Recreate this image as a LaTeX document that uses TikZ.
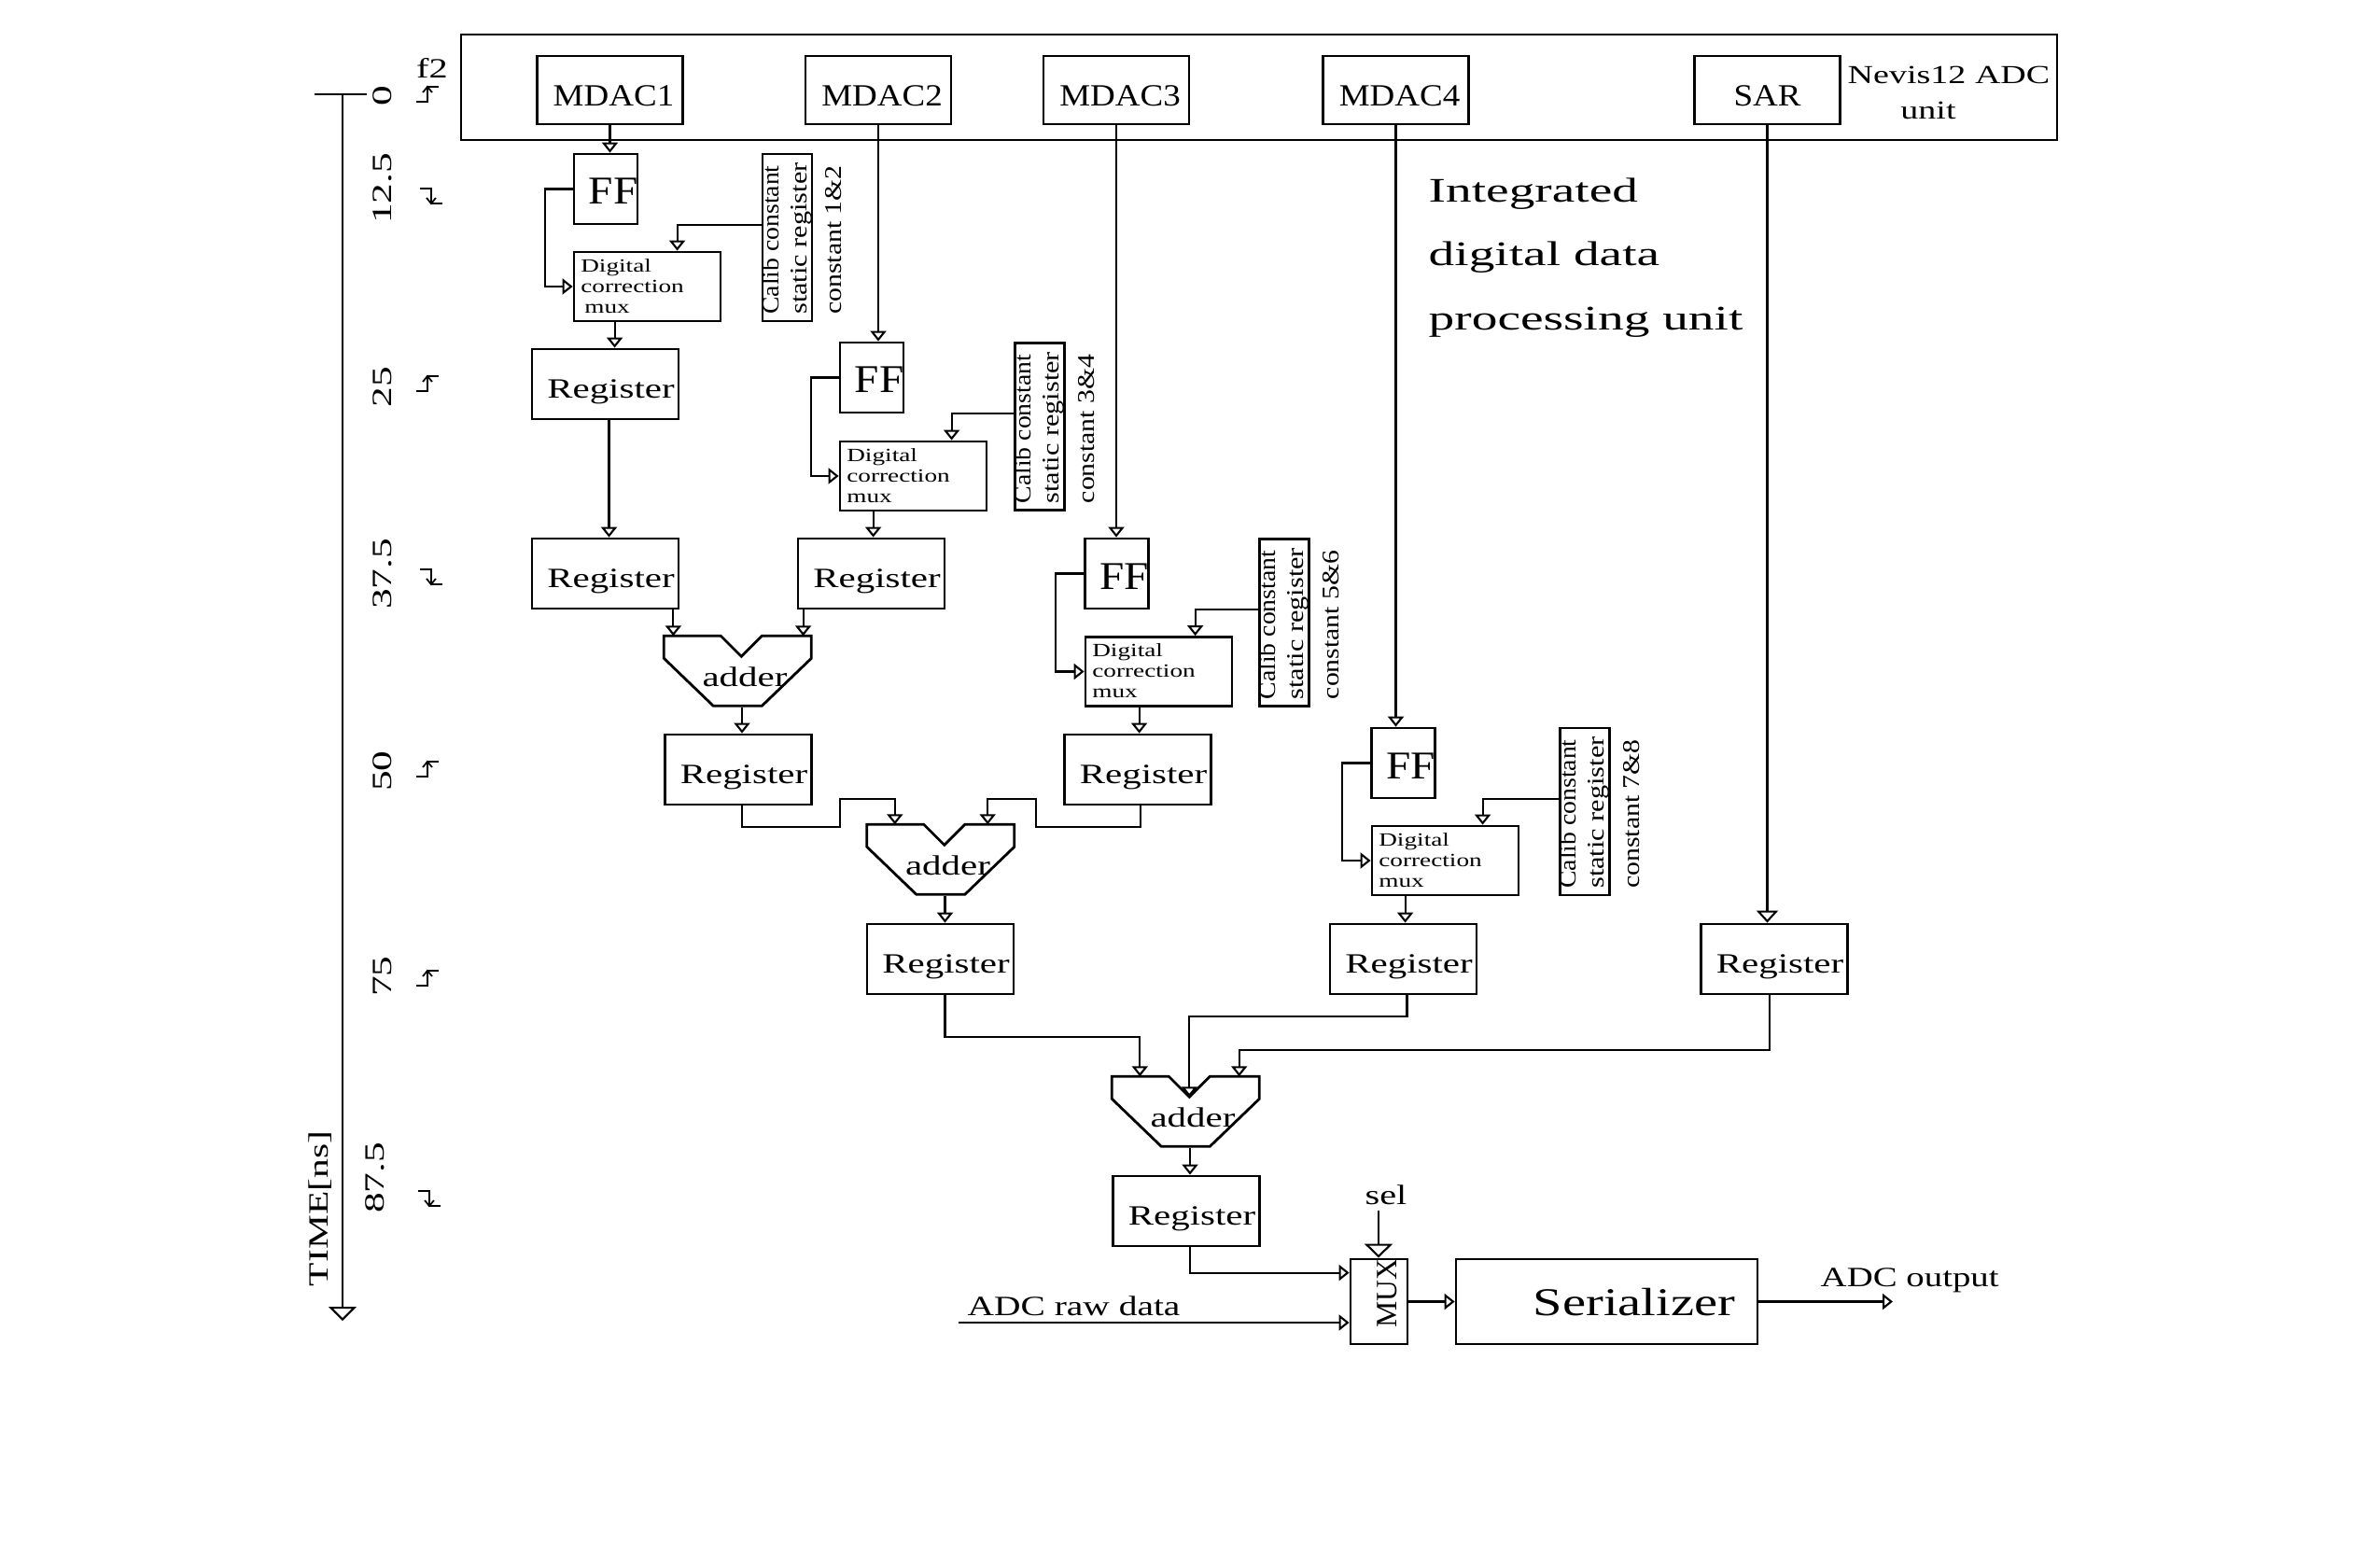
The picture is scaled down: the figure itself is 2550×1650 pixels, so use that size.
\documentclass[tikz,border=0pt]{standalone}
\usepackage{fontspec}
\setmainfont{Liberation Serif}
\usetikzlibrary{arrows.meta}
\newcommand\hs[2]{\scalebox{#1}[1]{#2}}
\newcommand\clkup[2]{\draw[clk] ({#1-12},{#2+8}) -- ({#1},{#2+8}) -- ({#1},{#2-8}) -- ({#1+12},{#2-8});
  \draw[clk] ({#1-5},{#2-2}) -- ({#1},{#2-8}) -- ({#1+5},{#2-2});}
\newcommand\clkdn[2]{\draw[clk] ({#1-12},{#2-8}) -- ({#1},{#2-8}) -- ({#1},{#2+8}) -- ({#1+12},{#2+8});
  \draw[clk] ({#1-5},{#2+2}) -- ({#1},{#2+8}) -- ({#1+5},{#2+2});}
\begin{document}
\begin{tikzpicture}[x=0.1mm,y=-0.1mm,
  sz/.style 2 args={minimum width=#1*0.1mm,minimum height=#2*0.1mm},
  blk/.style={draw,line width=0.8pt,inner sep=0pt},
  blkline/.style={line width=0.8pt},
  clk/.style={line width=0.5pt},
  lnk/.style={line width=0.6pt},
  arr/.style={line width=0.6pt,-{Triangle[open,length=1.1mm,width=1.7mm]}},
  midarr/.style={line width=0.6pt,-{Triangle[open,length=1.3mm,width=2.3mm]}},
  bigarr/.style={line width=0.6pt,-{Triangle[open,length=1.5mm,width=3mm]}},
  lbl/.style={inner sep=0pt,anchor=base},
  fmdac/.style={lbl,font=\fontsize{9.4}{11}\selectfont},
  fnev/.style={lbl,font=\fontsize{7.9}{9}\selectfont},
  fff/.style={lbl,font=\fontsize{12}{14}\selectfont},
  fdcm/.style={inner sep=0pt,anchor=north west,align=left,font=\fontsize{5.7}{6.3}\selectfont},
  fcal/.style={inner sep=0pt,rotate=90,anchor=north west,align=left,font=\fontsize{7.3}{8.6}\selectfont},
  freg/.style={lbl,font=\fontsize{8.5}{10}\selectfont},
  fsm/.style={inner sep=0pt,font=\fontsize{8.5}{10}\selectfont},
  ftime/.style={inner sep=0pt,rotate=90,anchor=center,font=\fontsize{8.5}{10}\selectfont},
  fser/.style={lbl,font=\fontsize{12}{14}\selectfont},
  fint/.style={inner sep=0pt,anchor=north west,align=left,font=\fontsize{10.5}{19.5}\selectfont}
]
\useasboundingbox (0,0) rectangle (2550,1650);

% ---------------- ADC unit ----------------
\node[blk,sz={1710}{113}] (adcunit) at (1349,93.5) {};
\node[blk,sz={156}{73}] (mdac1) at (653.5,96.5) {};
\node[blk,sz={156}{73}] (mdac2) at (941,96.5) {};
\node[blk,sz={156}{73}] (mdac3) at (1196,96.5) {};
\node[blk,sz={156}{73}] (mdac4) at (1495.5,96.5) {};
\node[blk,sz={156}{73}] (sar) at (1893.5,96.5) {};
\node[fmdac] (mdac1t) at (657.5,114) {\hs{1.12}{MDAC1}};
\node[fmdac] (mdac2t) at (945,114) {\hs{1.12}{MDAC2}};
\node[fmdac] (mdac3t) at (1200,114) {\hs{1.12}{MDAC3}};
\node[fmdac] (mdac4t) at (1499.5,114) {\hs{1.12}{MDAC4}};
\node[fmdac] (sart) at (1893.5,114) {\hs{1.12}{SAR}};
\node[fnev] (nevist) at (2088,90) {\hs{1.37}{Nevis12 ADC}};
\node[fnev] (unitt) at (2066,128) {\hs{1.37}{unit}};

% ---------------- FF / mux / calib groups ----------------
\node[blk,sz={68}{75}] (ff1) at (649,202.5) {};
\node[blk,sz={68}{75}] (ff2) at (934,404.5) {};
\node[blk,sz={68}{75}] (ff3) at (1196.5,614.5) {};
\node[blk,sz={68}{75}] (ff4) at (1503.5,817.5) {};
\node[fff] (ff1t) at (657,219) {\hs{1.12}{FF}};
\node[fff] (ff2t) at (942,421) {\hs{1.12}{FF}};
\node[fff] (ff3t) at (1204.5,631) {\hs{1.12}{FF}};
\node[fff] (ff4t) at (1511.5,834) {\hs{1.12}{FF}};

\node[blk,sz={157}{74}] (mux1) at (693.5,307) {};
\node[blk,sz={157}{74}] (mux2) at (978.5,510) {};
\node[blk,sz={157}{74}] (mux3) at (1241.5,719.5) {};
\node[blk,sz={157}{74}] (mux4) at (1548.5,922) {};
\node[fdcm] (mux1t) at ([shift={(8,8)}]mux1.north west) {\hs{1.36}{Digital}\\\hs{1.36}{correction}\\\hs{1.36}{\hspace*{0.3mm}mux}};
\node[fdcm] (mux2t) at ([shift={(8,8)}]mux2.north west) {\hs{1.36}{Digital}\\\hs{1.36}{correction}\\\hs{1.36}{mux}};
\node[fdcm] (mux3t) at ([shift={(8,8)}]mux3.north west) {\hs{1.36}{Digital}\\\hs{1.36}{correction}\\\hs{1.36}{mux}};
\node[fdcm] (mux4t) at ([shift={(8,8)}]mux4.north west) {\hs{1.36}{Digital}\\\hs{1.36}{correction}\\\hs{1.36}{mux}};

\node[blk,sz={53}{179}] (calib1) at (843.5,254.5) {};
\node[blk,sz={53}{179}] (calib2) at (1114,457) {};
\node[blk,sz={53}{179}] (calib3) at (1376,667) {};
\node[blk,sz={53}{179}] (calib4) at (1698,869.5) {};
\node[fcal] (calib1t) at ([shift={(0,-8)}]calib1.south west) {\hs{1.08}{Calib constant}\\\hs{1.18}{static register}\\[2pt]\hs{1.16}{constant 1\&2}};
\node[fcal] (calib2t) at ([shift={(0,-8)}]calib2.south west) {\hs{1.08}{Calib constant}\\\hs{1.18}{static register}\\[2pt]\hs{1.16}{constant 3\&4}};
\node[fcal] (calib3t) at ([shift={(0,-8)}]calib3.south west) {\hs{1.08}{Calib constant}\\\hs{1.18}{static register}\\[2pt]\hs{1.16}{constant 5\&6}};
\node[fcal] (calib4t) at ([shift={(0,-8)}]calib4.south west) {\hs{1.08}{Calib constant}\\\hs{1.18}{static register}\\[2pt]\hs{1.16}{constant 7\&8}};

% ---------------- registers ----------------
\node[blk,sz={157}{75}] (reg1) at (648.5,411.5) {};
\node[blk,sz={157}{75}] (reg1b) at (648.5,614.5) {};
\node[blk,sz={157}{75}] (reg2) at (933.5,614.5) {};
\node[blk,sz={157}{75}] (regc) at (791,824.5) {};
\node[blk,sz={157}{75}] (reg3) at (1219,824.5) {};
\node[blk,sz={157}{75}] (rega) at (1007.5,1027.5) {};
\node[blk,sz={157}{75}] (regb) at (1503.5,1027.5) {};
\node[blk,sz={157}{75}] (regsar) at (1901,1027.5) {};
\node[blk,sz={157}{75}] (regf) at (1271,1297.5) {};
\foreach \r in {reg1,reg1b,reg2,regc,reg3,rega,regb,regsar,regf}{
  \node[freg] (\r t) at ([shift={(6,54)}]\r.north) {\hs{1.37}{Register}};
}

% ---------------- adders ----------------
\node[inner sep=0pt,sz={158}{75}] (add1) at (791,719.5) {};
\node[inner sep=0pt,sz={158}{75}] (add2) at (1008.5,921.5) {};
\node[inner sep=0pt,sz={158}{75}] (add3) at (1271,1191.5) {};
\foreach \a in {add1,add2,add3}{
  \draw[blkline] (\a.north west) -- ++(61,0) -- ++(22,22) -- ++(22,-22) -- ++(53,0) -- ++(0,24)
    -- ++(-53,51) -- ++(-52,0) -- ++(-53,-51) -- cycle;
  \node[freg] (\a t) at ([shift={(7,54)}]\a.north) {\hs{1.37}{adder}};
}

% ---------------- MUX / Serializer ----------------
\node[blk,sz={61}{91}] (mux) at (1477.5,1394.5) {};
\node[inner sep=0pt,rotate=90,anchor=base west,font=\fontsize{9}{10}\selectfont] (muxt) at (1496,1423) {MUX};
\node[blk,sz={323}{91}] (ser) at (1721.5,1394.5) {};
\node[fser] (sert) at (1751,1409) {\hs{1.34}{Serializer}};
\node[fsm,anchor=base] (selt) at (1485,1290) {\hs{1.35}{sel}};
\node[fsm,anchor=base west] (rawt) at (1036,1409) {\hs{1.32}{ADC raw data}};
\node[fsm,anchor=base west] (outt) at (1950,1378) {\hs{1.3}{ADC output}};
\coordinate (selin) at (1477,1297);
\coordinate (rawin) at (1027,1417);
\coordinate (outc) at (2028,1394.5);

% ---------------- connectors ----------------
\draw[arr] (mdac1.south) -- (mdac1.south |- ff1.north);
\draw[arr] (mdac2.south) -- (mdac2.south |- ff2.north);
\draw[arr] (mdac3.south) -- (mdac3.south |- ff3.north);
\draw[arr] (mdac4.south) -- (mdac4.south |- ff4.north);
\draw[midarr] (sar.south) -- (sar.south |- regsar.north);

\draw[arr] (ff1.west) -- ++(-30,0) |- (mux1.west);
\draw[arr] (ff2.west) -- ++(-30,0) |- (mux2.west);
\draw[arr] (ff3.west) -- ++(-30,0) |- (mux3.west);
\draw[arr] (ff4.west) -- ++(-30,0) |- (mux4.west);

\draw[arr] (calib1.west |- ff1.south) -| ([shift={(112,0)}]mux1.north west);
\draw[arr] (calib2.west |- ff2.south) -| ([shift={(121,0)}]mux2.north west);
\draw[arr] (calib3.west |- ff3.south) -| ([shift={(119,0)}]mux3.north west);
\draw[arr] (calib4.west |- ff4.south) -| ([shift={(120,0)}]mux4.north west);

\draw[arr] ([shift={(45,0)}]mux1.south west) -- ([shift={(45,0)}]mux1.south west |- reg1.north);
\draw[arr] ([shift={(37,0)}]mux2.south west) -- ([shift={(37,0)}]mux2.south west |- reg2.north);
\draw[arr] ([shift={(59,0)}]mux3.south west) -- ([shift={(59,0)}]mux3.south west |- reg3.north);
\draw[arr] ([shift={(37,0)}]mux4.south west) -- ([shift={(37,0)}]mux4.south west |- regb.north);

\draw[arr] ([shift={(4,0)}]reg1.south) -- ([shift={(4,0)}]reg1.south |- reg1b.north);
\draw[arr] ([shift={(-7,0)}]reg1b.south east) -- ([shift={(-7,0)}]reg1b.south east |- add1.north);
\draw[arr] ([shift={(7,0)}]reg2.south west) -- ([shift={(7,0)}]reg2.south west |- add1.north);
\draw[arr] ([shift={(4,0)}]add1.south) -- ([shift={(4,0)}]add1.south |- regc.north);

\draw[arr] ([shift={(4,0)}]regc.south) -- ++(0,23) -- ++(105,0) -- ++(0,-30) -| ([shift={(30,0)}]add2.north west);
\draw[arr] ([shift={(3,0)}]reg3.south) -- ++(0,23) -- ++(-112,0) -- ++(0,-30) -| ([shift={(-30,0)}]add2.north east);
\draw[arr] ([shift={(4,0)}]add2.south) -- ([shift={(4,0)}]add2.south |- rega.north);

\draw[arr] ([shift={(5,0)}]rega.south) -- ++(0,45) -| ([shift={(30,0)}]add3.north west);
\draw[arr] ([shift={(4,0)}]regb.south) -- ++(0,23) -| ([shift={(83,22)}]add3.north west);
\draw[arr] ([shift={(-5,0)}]regsar.south) -- ++(0,59) -| ([shift={(-23,0)}]add3.north east);
\draw[arr] ([shift={(4,0)}]add3.south) -- ([shift={(4,0)}]add3.south |- regf.north);

\draw[arr] ([shift={(4,0)}]regf.south) |- ([shift={(0,16)}]mux.north west);
\draw[arr] (rawin) -- (rawin -| mux.west);
\draw[bigarr] (selin) -- (selin |- mux.north);
\draw[arr] (mux.east) -- (ser.west);
\draw[arr] (ser.east) -- (outc);

% ---------------- text block ----------------
\node[fint] (intt) at (1530,190) {\hs{1.5}{Integrated}\\\hs{1.5}{digital data}\\\hs{1.5}{processing unit}};

% ---------------- time axis ----------------
\coordinate (t0) at (367,101);
\coordinate (tend) at (367,1415);
\coordinate (tickl) at (337,101);
\coordinate (tickr) at (393,101);
\draw[bigarr] (t0) -- (tend);
\draw[lnk] (tickl) -- (tickr);
\node[ftime] (tl0) at (410,103) {\hs{1.45}{0}};
\node[ftime] (tl1) at (410,202) {\hs{1.45}{12.5}};
\node[ftime] (tl2) at (410,415) {\hs{1.45}{25}};
\node[ftime] (tl3) at (410,615) {\hs{1.45}{37.5}};
\node[ftime] (tl4) at (410,826) {\hs{1.45}{50}};
\node[ftime] (tl5) at (410,1046) {\hs{1.45}{75}};
\node[ftime] (tl6) at (402,1262) {\hs{1.45}{87.5}};
\node[ftime] (tlab) at (343,1295) {\hs{1.39}{TIME[ns]}};
\node[fsm,anchor=base] (f2t) at (463,84) {\hs{1.35}{f2}};
\clkup{458}{101}
\clkdn{462}{210}
\clkup{458}{411}
\clkdn{462}{618}
\clkup{458}{824}
\clkup{458}{1048}
\clkdn{460}{1284}
\end{tikzpicture}
\end{document}
